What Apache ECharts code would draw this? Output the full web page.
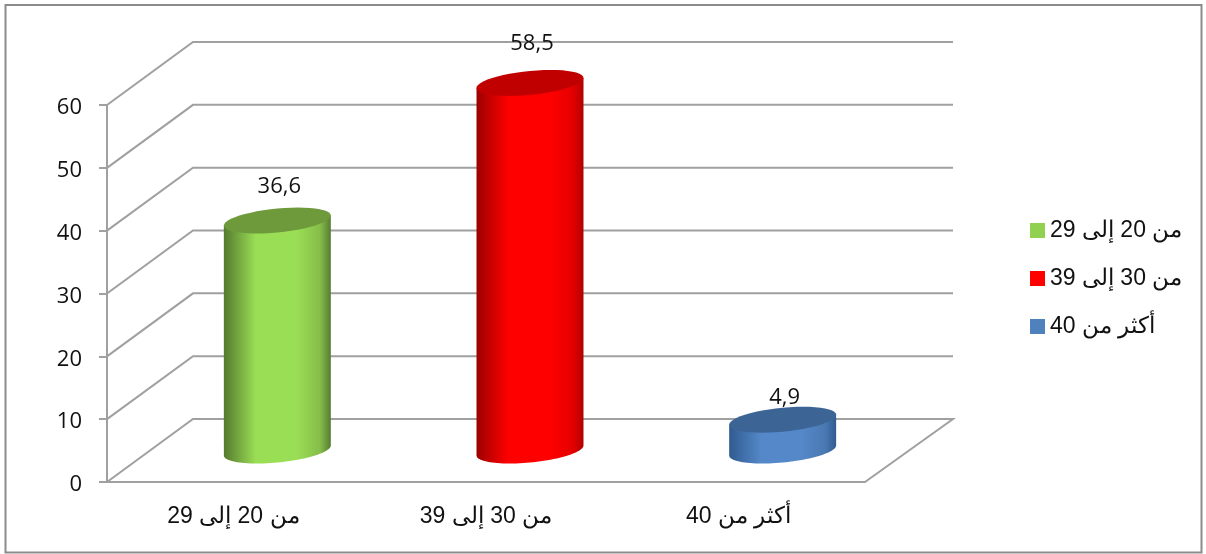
<!DOCTYPE html>
<html>
<head>
<meta charset="utf-8">
<style>html,body{margin:0;padding:0;background:#fff}#c{width:1206px;height:554px}</style>
<script src="https://cdn.jsdelivr.net/npm/echarts@6/dist/echarts.min.js"></script>
</head>
<body>
<div id="c"></div>
<script>
const categories = ['من 20 إلى 29', 'من 30 إلى 39', 'أكثر من 40'];
const values = [36.6, 58.5, 4.9];
const valueLabels = ['36,6', '58,5', '4,9'];
const valueTicks = [0, 10, 20, 30, 40, 50, 60];
const labelLift = [34, 39, 22];
const bodyColours = [
  ['#557a2e', '#9ade55', '#86bd49', '#567c30'],
  ['#9c0000', '#ff0000', '#e40000', '#b00000'],
  ['#2f5b8f', '#5588c9', '#4a78b2', '#2f5b8f']
];
const capColours = ['#6e9a3c', '#c00000', '#3c6595'];
const legendColours = ['#92d050', '#ff0000', '#4f81bd'];

const GRID = '#a0a0a0';
const TEXT = '#111';
const NUM_FONT = '"Open Sans","Liberation Sans",sans-serif';
const CAT_FONT = '"Liberation Sans",Arial,sans-serif';
const depthX = 86, depthY = 63;

const chart = echarts.init(document.getElementById('c'), null, {renderer: 'canvas'});

function wall(params, api) {
  const cs = params.coordSys;
  const y = api.coord([0, api.value(0)])[1];
  const x0 = cs.x, x1 = cs.x + cs.width;
  const pts = [[x0, y], [x0 + depthX, y - depthY], [x1 + 2 + depthX, y - depthY]];
  if (api.value(0) === 0) pts.push([x1, y]);
  return {type: 'polyline', shape: {points: pts},
    style: {stroke: GRID, lineWidth: 2, fill: null}};
}

function ellipsePts(cx, cy, a, from, to) {
  const b = 12, c = -5, pts = [], n = 48;
  for (let i = 0; i <= n; i++) {
    const t = from + (to - from) * i / n;
    pts.push([cx + a * Math.cos(t), cy + b * Math.sin(t) + c * Math.cos(t)]);
  }
  return pts;
}

function cylinder(idx) {
  return function (params, api) {
    const top = api.coord([api.value(0), api.value(1)]);
    const base = api.coord([api.value(0), 0]);
    const a = api.size([1, 0])[0] * 0.2117;
    const cx = top[0] + depthX / 2 + 1;
    const cyTop = top[1] - depthY / 2;
    const cyBase = base[1] - depthY / 2;
    const frontBase = ellipsePts(cx, cyBase, a, 0, Math.PI);
    const leftTop = ellipsePts(cx, cyTop, a, Math.PI, Math.PI)[0];
    const rightTop = ellipsePts(cx, cyTop, a, 0, 0)[0];
    const body = [rightTop].concat(frontBase, [leftTop]);
    const col = bodyColours[idx];
    return {type: 'group', children: [
      {type: 'polygon', shape: {points: body}, style: {
        fill: new echarts.graphic.LinearGradient(0, 0, 1, 0, [
          {offset: 0, color: col[0]},
          {offset: 0.3, color: col[1]},
          {offset: 0.68, color: col[1]},
          {offset: 0.9, color: col[2]},
          {offset: 1, color: col[3]}
        ])}},
      {type: 'polygon', shape: {points: ellipsePts(cx, cyTop, a, 0, Math.PI * 2)},
        style: {fill: capColours[idx]}},
      {type: 'text', style: {text: valueLabels[idx], x: cx + 2, y: cyTop - labelLift[idx],
        align: 'center', verticalAlign: 'middle', fill: TEXT,
        font: '22px ' + NUM_FONT}}
    ]};
  };
}

const series = [{
  type: 'custom', name: 'walls', z: 1, silent: true,
  coordinateSystem: 'cartesian2d',
  renderItem: wall,
  encode: {y: 0},
  data: valueTicks.map(v => [v])
}];
categories.forEach((name, i) => {
  series.push({
    type: 'custom', name, z: 3, silent: true,
    coordinateSystem: 'cartesian2d',
    renderItem: cylinder(i),
    itemStyle: {color: legendColours[i]},
    encode: {x: 0, y: 1},
    data: [[i, values[i]]]
  });
});

chart.setOption({
  animation: false,
  backgroundColor: '#fff',
  grid: {left: 107, right: 341, top: 105, bottom: 72, containLabel: false},
  xAxis: {
    type: 'category', data: categories, boundaryGap: true,
    axisLine: {lineStyle: {color: GRID, width: 2}},
    axisTick: {length: 7, alignWithLabel: false, lineStyle: {color: GRID, width: 2}},
    axisLabel: {margin: 23, color: TEXT, fontSize: 23, fontFamily: CAT_FONT, interval: 0},
    splitLine: {show: false}
  },
  yAxis: {
    type: 'value', min: 0, max: 60, interval: 10,
    axisLine: {show: true, lineStyle: {color: GRID, width: 2}},
    axisTick: {show: true, length: 8, lineStyle: {color: GRID, width: 2}},
    axisLabel: {margin: 25, formatter: '{n|{value}}',
      rich: {n: {color: TEXT, fontSize: 22, fontFamily: NUM_FONT, padding: [6, 0, 0, 0]}}},
    splitLine: {show: false}
  },
  legend: {
    orient: 'vertical', left: 1025, top: 214,
    data: categories,
    itemWidth: 15, itemHeight: 15, itemGap: 25, icon: 'rect',
    textStyle: {color: TEXT, fontSize: 23, fontFamily: CAT_FONT},
    selectedMode: false
  },
  graphic: [{
    type: 'rect', silent: true, z: 100,
    shape: {x: 5.5, y: 5, width: 1196, height: 547.5},
    style: {fill: null, stroke: '#8c8c8c', lineWidth: 2}
  }],
  series
});
</script>
</body>
</html>
